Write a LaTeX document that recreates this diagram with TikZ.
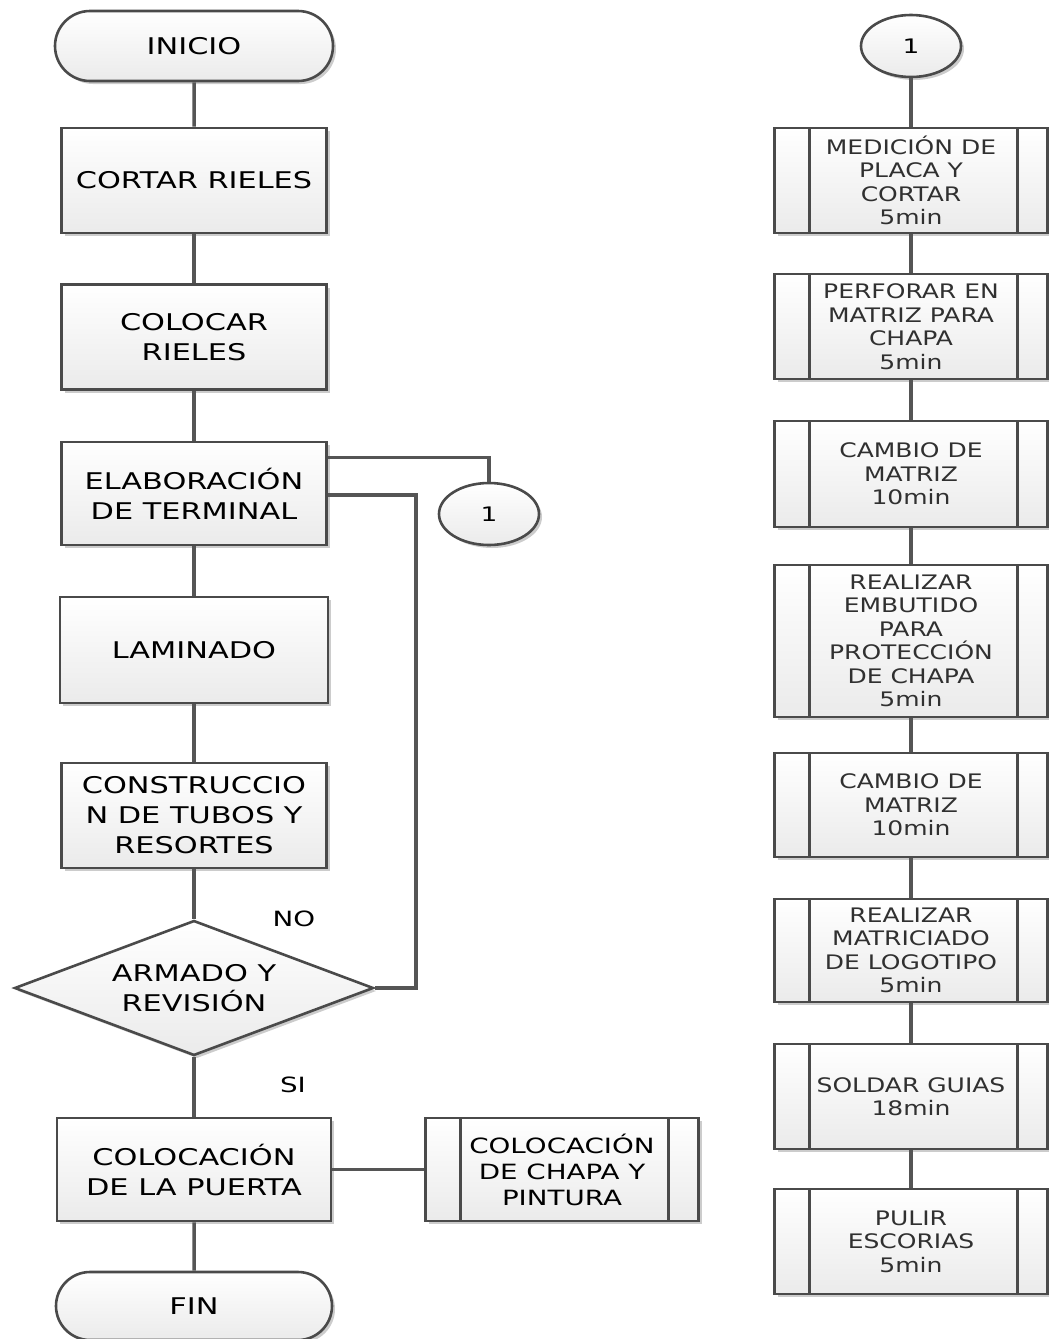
\documentclass[tikz,border=0pt]{standalone}
\usepackage{fontspec}
\newfontfamily\lf[FakeStretch=1.32]{DejaVu Sans}
\newfontfamily\rf[FakeStretch=1.25]{DejaVu Sans}
\usetikzlibrary{shapes.geometric,shapes.misc,shadows}
\definecolor{bdcol}{HTML}{4A4A4A}
\definecolor{lncol}{HTML}{555555}
\definecolor{rtxt}{HTML}{303030}
\tikzset{
  base/.style={draw=bdcol, line width=2.6pt, top color=white, bottom color=white!92!black,
    inner sep=0pt, align=center,
    drop shadow={shadow xshift=3pt, shadow yshift=-3pt, opacity=0.2, fill=black}},
  lbox/.style={base, rectangle, minimum width=265pt, minimum height=105pt,
    font=\lf\fontsize{23}{30}\selectfont},
  term/.style={base, rounded rectangle, minimum width=278pt, minimum height=70pt,
    font=\lf\fontsize{23}{30}\selectfont},
  conn/.style={base, ellipse, minimum width=100pt, minimum height=62pt,
    font=\lf\fontsize{20}{24}\selectfont},
  decis/.style={base, diamond, aspect=2.66, minimum width=359pt, minimum height=135pt,
    font=\lf\fontsize{23}{30}\selectfont},
  subproc/.style={base, rectangle, minimum width=273pt, minimum height=105pt,
    path picture={
      \draw[bdcol, line width=2.6pt]
        ([xshift=35pt]path picture bounding box.north west) -- ([xshift=35pt]path picture bounding box.south west)
        ([xshift=-30pt]path picture bounding box.north east) -- ([xshift=-30pt]path picture bounding box.south east);
    }},
  rbox/.style={subproc, text=rtxt, font=\rf\fontsize{20}{23.5}\selectfont},
  line/.style={draw=lncol, line width=3.5pt},
  lbl/.style={font=\lf\fontsize{21}{25}\selectfont, inner sep=0pt}
}
\begin{document}
\begin{tikzpicture}[x=1pt,y=-1pt]
\useasboundingbox (0,0) rectangle (1049,1339);
% left column
\node[term] (inicio) at (194,46) {INICIO};
\node[lbox] (cortar) at (194,180.5) {CORTAR RIELES};
\node[lbox] (colocar) at (194,337) {COLOCAR\\RIELES};
\node[lbox, minimum height=103pt] (elab) at (194,493.5) {ELABORACIÓN\\DE TERMINAL};
\node[lbox, minimum width=268pt, minimum height=106pt] (lamin) at (194,650) {LAMINADO};
\node[lbox] (constr) at (194,815.5) {CONSTRUCCIO\\N DE TUBOS Y\\RESORTES};
\node[decis] (dec) at (194,988) {ARMADO Y\\REVISIÓN};
\node[lbox, minimum width=274pt, minimum height=103pt] (puerta) at (194,1169.5) {COLOCACIÓN\\DE LA PUERTA};
\node[term, minimum width=276pt, minimum height=68pt] (fin) at (194,1306) {FIN};
\node[subproc, minimum height=103pt, font=\lf\fontsize{21}{26}\selectfont] (chapa) at (562,1169.5) {COLOCACIÓN\\DE CHAPA Y\\PINTURA};
\node[conn] (c1) at (489,514) {1};
\node[lbl] (no) at (294,919) {NO};
\node[lbl] (si) at (293,1085) {SI};
\coordinate (loopc) at (416,495);
% right column
\node[conn] (c1r) at (911,46) {1};
\node[rbox] (r1) at (911,180.5) {MEDICIÓN DE\\PLACA Y\\CORTAR\\5min};
\node[rbox] (r2) at (911,326.5) {PERFORAR EN\\MATRIZ PARA\\CHAPA\\5min};
\node[rbox, minimum height=106pt] (r3) at (911,474) {CAMBIO DE\\MATRIZ\\10min};
\node[rbox, minimum height=152pt] (r4) at (911,641) {REALIZAR\\EMBUTIDO\\PARA\\PROTECCIÓN\\DE CHAPA\\5min};
\node[rbox, minimum height=104pt] (r5) at (911,805) {CAMBIO DE\\MATRIZ\\10min};
\node[rbox, minimum height=103pt] (r6) at (911,950.5) {REALIZAR\\MATRICIADO\\DE LOGOTIPO\\5min};
\node[rbox] (r7) at (911,1096.5) {SOLDAR GUIAS\\18min};
\node[rbox] (r8) at (911,1241.5) {PULIR\\ESCORIAS\\5min};
% connectors
\draw[line] (inicio) -- (cortar);
\draw[line] (cortar) -- (colocar);
\draw[line] (colocar) -- (elab);
\draw[line] (elab) -- (lamin);
\draw[line] (lamin) -- (constr);
\draw[line] (constr) -- (dec);
\draw[line] (dec) -- (puerta);
\draw[line] (puerta) -- (fin);
\draw[line] (puerta) -- (chapa);
\draw[line] ([yshift=36pt]elab.east) -| (c1.north);
\draw[line] (dec.east) -| (loopc) -- (elab.east |- loopc);
\draw[line] (c1r) -- (r1);
\draw[line] (r1) -- (r2);
\draw[line] (r2) -- (r3);
\draw[line] (r3) -- (r4);
\draw[line] (r4) -- (r5);
\draw[line] (r5) -- (r6);
\draw[line] (r6) -- (r7);
\draw[line] (r7) -- (r8);
\end{tikzpicture}
\end{document}
